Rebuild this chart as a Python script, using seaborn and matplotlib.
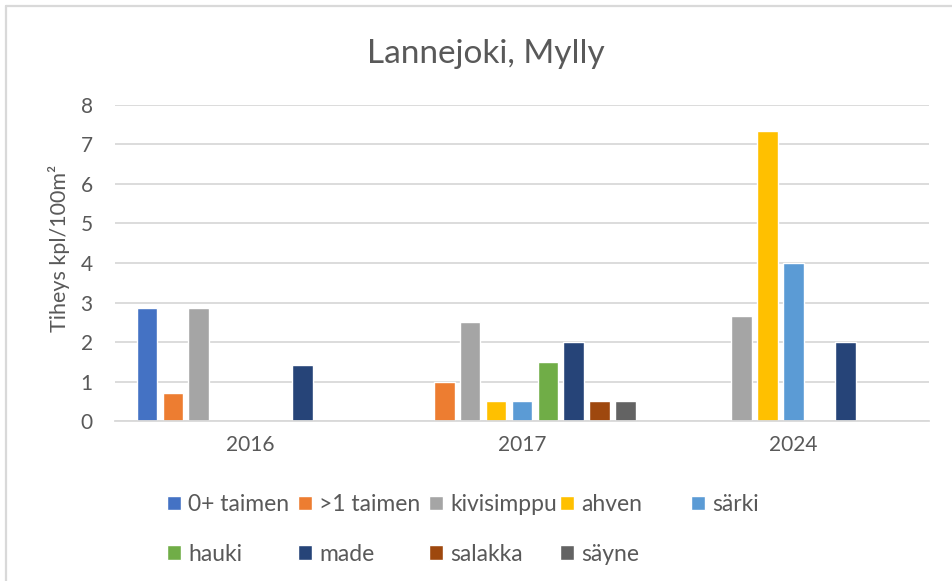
import pandas as pd
import seaborn as sns
import matplotlib.pyplot as plt
from matplotlib.lines import Line2D

years = ["2016", "2017", "2024"]
species = ["0+ taimen", ">1 taimen", "kivisimppu", "ahven", "särki",
           "hauki", "made", "salakka", "säyne"]
colors = ["#4472C4", "#ED7D31", "#A5A5A5", "#FFC000", "#5B9BD5",
          "#70AD47", "#264478", "#9E480E", "#636363"]

# density per species, one value per year (2016, 2017, 2024)
taimen_0 = [2.86, 0.0, 0.0]
taimen_1 = [0.71, 1.0, 0.0]
kivisimppu = [2.85, 2.5, 2.65]
ahven = [0.0, 0.5, 7.33]
sarki = [0.0, 0.5, 4.0]
hauki = [0.0, 1.5, 0.0]
made = [1.41, 2.0, 2.0]
salakka = [0.0, 0.5, 0.0]
sayne = [0.0, 0.5, 0.0]

values = [taimen_0, taimen_1, kivisimppu, ahven, sarki, hauki, made, salakka, sayne]

rows = []
for sp, vals in zip(species, values):
    for yr, v in zip(years, vals):
        rows.append({"year": yr, "species": sp, "tiheys": v})
df = pd.DataFrame(rows)

sns.set_theme(style="white")
plt.rcParams['font.family'] = ['Lato', 'DejaVu Sans']
grey = "#595959"

fig = plt.figure(figsize=(9.52, 5.81), dpi=100)
ax = fig.add_axes([0.1208, 0.2749, 0.855, 0.545])

sns.barplot(data=df, x="year", y="tiheys", hue="species", order=years,
            hue_order=species, palette=colors, width=0.86, gap=0.2,
            saturation=1, ax=ax, legend=True)

ax.set_ylim(0, 8)
ax.set_xlim(-0.5, 2.5)
ax.set_yticks(range(0, 9))
ax.yaxis.grid(True, color="#D9D9D9", linewidth=1.3)
ax.set_axisbelow(True)
for s in ["top", "right", "left"]:
    ax.spines[s].set_visible(False)
ax.spines["bottom"].set_color("#D9D9D9")
ax.spines["bottom"].set_linewidth(1.3)
ax.tick_params(axis="y", length=0, labelsize=15, colors=grey, pad=16)
ax.tick_params(axis="x", length=0, labelsize=15, colors=grey, pad=10)
ax.set_xlabel("")
ax.set_ylabel("Tiheys kpl/100m²", fontsize=15.5, color=grey)
ax.yaxis.set_label_coords(-0.055, 0.546)

fig.text(486 / 952, 1 - 63 / 581, "Lannejoki, Mylly", fontsize=24,
         color=grey, ha="center", va="baseline")

# legend: 5 equal-width columns, two rows, like the excel layout
handles, labels = ax.get_legend_handles_labels()
ax.legend_.remove()
for col in range(5):
    idx = [i for i in (col, col + 5) if i < len(handles)]
    fig.legend([handles[i] for i in idx], [labels[i] for i in idx],
               loc="upper left", bbox_to_anchor=((167 + 131 * col) / 952, 1 - 494 / 581),
               frameon=False, fontsize=16.5, labelcolor=grey,
               handlelength=0.62, handleheight=0.62, handletextpad=0.3,
               labelspacing=1.25, borderaxespad=0, borderpad=0)

# chart area border
fig.add_artist(Line2D([5.5 / 952, 1], [1 - 5.5 / 581] * 2, color="#D9D9D9",
                      linewidth=1.6, transform=fig.transFigure))
fig.add_artist(Line2D([5.5 / 952] * 2, [0, 1 - 5.5 / 581], color="#D9D9D9",
                      linewidth=1.6, transform=fig.transFigure))

fig.savefig("out.png", dpi=100)
